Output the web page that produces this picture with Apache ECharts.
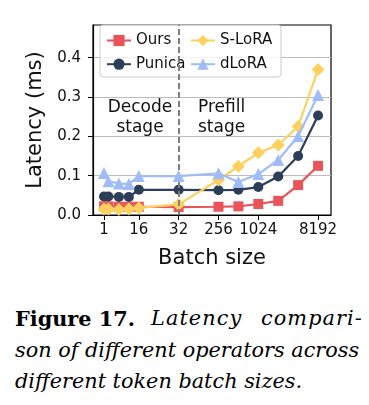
<!DOCTYPE html>
<html>
<head>
<meta charset="utf-8">
<script src="https://cdn.jsdelivr.net/npm/echarts@6/dist/echarts.min.js"></script>
<style>
  html, body { margin: 0; padding: 0; background: #fff; }
  #wrap { position: relative; width: 369px; height: 405px; overflow: hidden; }
  #chart { position: absolute; left: 0; top: 0; width: 369px; height: 290px; }
  .cap { position: absolute; font-family: "DejaVu Serif", serif; font-size: 20.8px; line-height: 31.5px; color: #000; white-space: nowrap; }
  .cap b { font-weight: bold; font-style: normal; }
  .cap i { font-style: italic; }
  .wide { letter-spacing: 1.1px; }
</style>
</head>
<body>
<div id="wrap">
  <div id="chart"></div>
  <div class="cap" style="top:303px; left:15px;"><b>Figure 17.</b></div>
  <div class="cap wide" style="top:303px; left:151px;"><i>Latency</i></div>
  <div class="cap wide" style="top:303px; right:6px;"><i>compari-</i></div>
  <div class="cap" style="top:334.5px; left:15px;"><i>son of different operators across</i></div>
  <div class="cap" style="top:366px; left:15px;"><i>different token batch sizes.</i></div>
</div>
<script>
// ---- data ----
const batchSizes   = ['1', '2', '4', '8', '16', '32', '256', '512', '1024', '2048', '4096', '8192'];
// position of each batch size along the (non-uniform) x axis, in axis units
const batchAxisPos = [0, 0.9, 3, 5, 7, 15, 23, 27, 31, 35, 39, 43];
const tickLabels   = ['1', '16', '32', '256', '1024', '8192'];
const stageSplit   = '32';

const ours   = [0.022, 0.022, 0.021, 0.021, 0.021, 0.020, 0.021, 0.022, 0.028, 0.036, 0.076, 0.125];
const punica = [0.047, 0.047, 0.046, 0.046, 0.064, 0.064, 0.063, 0.064, 0.071, 0.098, 0.150, 0.253];
const slora  = [0.015, 0.015, 0.014, 0.015, 0.018, 0.027, 0.089, 0.124, 0.158, 0.178, 0.225, 0.370];
const dlora  = [0.107, 0.086, 0.080, 0.079, 0.099, 0.099, 0.106, 0.084, 0.104, 0.140, 0.200, 0.305];

const yTicks = [0.0, 0.1, 0.2, 0.3, 0.4];

// ---- build chart ----
const posOf = s => batchAxisPos[batchSizes.indexOf(s)];
const tickPos = tickLabels.map(posOf);
const pairs = arr => arr.map((v, i) => [batchAxisPos[i], v]);

const FONT = 'DejaVu Sans';
const TXT = '#111';

function mkSeries(name, data, color, symbol, size, z) {
  return {
    name, type: 'line', data: pairs(data), symbol, symbolSize: size,
    showSymbol: true, z,
    lineStyle: { color, width: 2.2 },
    itemStyle: { color, borderWidth: 0 },
    emphasis: { disabled: true },
    animation: false
  };
}

const series = [
  mkSeries('Ours', ours, '#e9535a', 'rect', 10, 2),
  mkSeries('Punica', punica, '#2c3e58', 'circle', 10, 3),
  mkSeries('S-LoRA', slora, '#fdd15f', 'diamond', 13, 4),
  mkSeries('dLoRA', dlora, '#a0bcf8', 'triangle', 12, 5)
];
series[0].markLine = {
  silent: true, symbol: 'none', animation: false,
  label: { show: false },
  lineStyle: { color: '#7f7f7f', type: [6, 3], width: 2 },
  data: [{ xAxis: posOf(stageSplit) }]
};

const chart = echarts.init(document.getElementById('chart'), null, { renderer: 'canvas' });
chart.setOption({
  animation: false,
  textStyle: { fontFamily: FONT },
  grid: { left: 93, right: 38, top: 25, height: 190, show: true, borderColor: '#000', borderWidth: 1.2, backgroundColor: 'transparent' },
  xAxis: {
    type: 'value', min: -2.2, max: 45.6,
    name: 'Batch size', nameLocation: 'middle', nameGap: 33,
    nameTextStyle: { fontSize: 21, color: TXT, fontFamily: FONT },
    axisLine: { show: true, onZero: false, lineStyle: { color: '#000', width: 1.2 } },
    axisTick: { show: true, length: 5, customValues: tickPos, lineStyle: { color: '#000' } },
    axisLabel: {
      customValues: tickPos, margin: 8, fontSize: 15, color: TXT, fontFamily: FONT,
      formatter: v => { const i = tickPos.indexOf(v); return i >= 0 ? tickLabels[i] : ''; }
    },
    splitLine: { show: false }
  },
  yAxis: {
    type: 'value', min: 0, max: 0.483, interval: 0.1,
    name: 'Latency (ms)', nameLocation: 'middle', nameGap: 45,
    nameTextStyle: { fontSize: 21, color: TXT, fontFamily: FONT },
    axisLine: { show: true, onZero: false, lineStyle: { color: '#000', width: 1.2 } },
    axisTick: { show: true, length: 5, customValues: yTicks, lineStyle: { color: '#000' } },
    axisLabel: {
      customValues: yTicks, margin: 12, fontSize: 15, color: TXT, fontFamily: FONT,
      formatter: v => v.toFixed(1)
    },
    splitLine: { show: true, lineStyle: { color: '#bdbdbd', width: 1 } }
  },
  legend: [
    {
      data: ['Ours', 'Punica'], orient: 'vertical', left: 106, top: 33, padding: 0,
      itemWidth: 24, itemHeight: 14, itemGap: 8.7, selectedMode: false,
      textStyle: { fontSize: 15, color: TXT, fontFamily: FONT }
    },
    {
      data: ['S-LoRA', 'dLoRA'], orient: 'vertical', left: 190, top: 33, padding: 0,
      itemWidth: 24, itemHeight: 14, itemGap: 8.7, selectedMode: false,
      textStyle: { fontSize: 15, color: TXT, fontFamily: FONT }
    }
  ],
  graphic: [
    {
      type: 'rect', z: 3, silent: true,
      shape: { x: 100, y: 25, width: 181, height: 52, r: 3 },
      style: { fill: 'rgba(255,255,255,0.8)', stroke: '#cccccc', lineWidth: 1 }
    },
    {
      type: 'text', z: 6, silent: true, x: 140, y: 118,
      style: { text: 'Decode\nstage', font: '17px "DejaVu Sans"', fill: TXT, align: 'center', verticalAlign: 'middle', lineHeight: 20 }
    },
    {
      type: 'text', z: 6, silent: true, x: 198, y: 118,
      style: { text: 'Prefill\nstage', font: '17px "DejaVu Sans"', fill: TXT, align: 'left', verticalAlign: 'middle', lineHeight: 20 }
    }
  ],
  series
});
</script>
</body>
</html>
